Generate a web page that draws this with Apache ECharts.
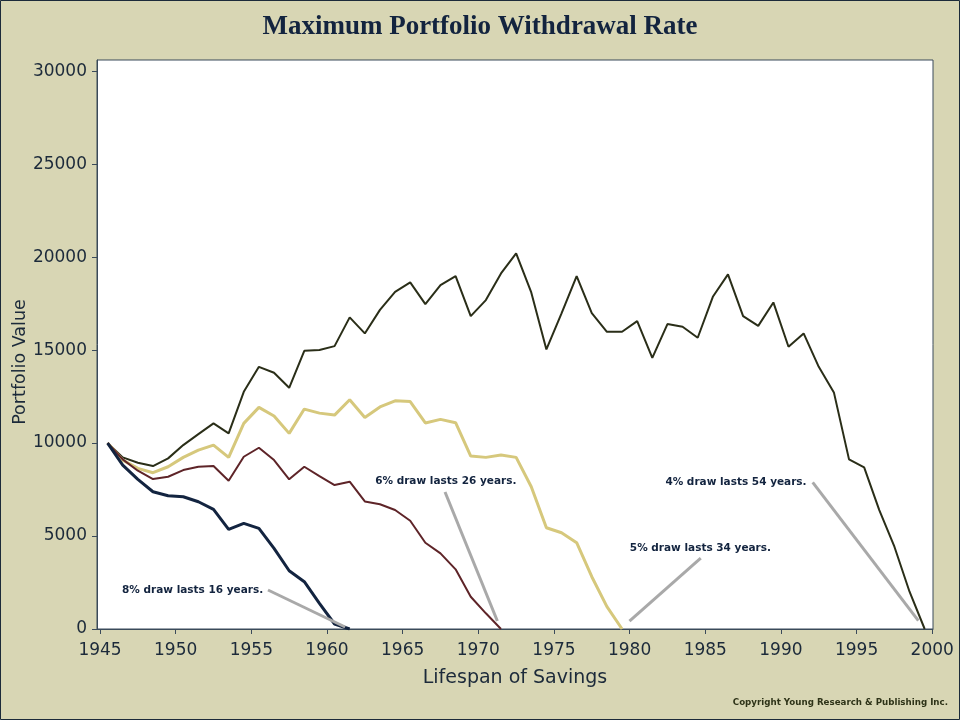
<!DOCTYPE html>
<html>
<head>
<meta charset="utf-8">
<script src="https://cdn.jsdelivr.net/npm/echarts@6/dist/echarts.min.js"></script>
<style>html,body{margin:0;padding:0;background:#d8d6b4;}#c{width:960px;height:720px;}</style>
</head>
<body>
<div id="c"></div>
<script>
// ---- data ----
const years = [1945.5,1946.5,1947.5,1948.5,1949.5,1950.5,1951.5,1952.5,1953.5,1954.5,
  1955.5,1956.5,1957.5,1958.5,1959.5,1960.5,1961.5,1962.5,1963.5,1964.5,
  1965.5,1966.5,1967.5,1968.5,1969.5,1970.5,1971.5,1972.5,1973.5,1974.5,
  1975.5,1976.5,1977.5,1978.5,1979.5,1980.5,1981.5,1982.5,1983.5,1984.5,
  1985.5,1986.5,1987.5,1988.5,1989.5,1990.5,1991.5,1992.5,1993.5,1994.5,
  1995.5,1996.5,1997.5,1998.5,1999.5];
const draw4 = [10000,9230,8940,8763,9176,9890,10480,11058,10520,12757,
  14100,13780,12973,14962,15000,15214,16757,15896,17160,18134,
  18638,17472,18493,18977,16827,17687,19122,20197,18100,15034,
  16972,18977,16990,15985,15985,16558,14585,16397,16253,15662,
  17866,19068,16827,16300,17563,15178,15896,14101,12724,9122,
  8693,6397,4424,2005,0];
const draw5 = [10000,9085,8637,8404,8726,9230,9623,9892,9230,11058,
  11918,11451,10520,11827,11610,11504,12330,11370,11940,12274,
  12230,11080,11273,11093,9300,9230,9354,9230,7650,5446,
  5177,4640,2812,1200,0];
const draw6 = [10000,9122,8512,8064,8189,8548,8726,8763,7973,9264,
  9748,9085,8048,8726,8225,7742,7920,6860,6710,6397,
  5822,4640,4070,3209,1736,844,0];
const draw8 = [10000,8817,8048,7381,7166,7112,6844,6435,5360,5682,
  5414,4338,3134,2543,1382,269,0];
const seriesNames = ['4% draw','5% draw','6% draw','8% draw'];
const yTicks = [0,5000,10000,15000,20000,25000,30000];
const xTicks = [1945,1950,1955,1960,1965,1970,1975,1980,1985,1990,1995,2000];
// annotations: text, text centre [year,value], leader line from/to [year,value]
const noteTexts = ['8% draw lasts 16 years.','6% draw lasts 26 years.','5% draw lasts 34 years.','4% draw lasts 54 years.'];
const noteAt = [[1951.12,2097],[1967.85,7957],[1984.68,4354],[1987.03,7903]];
const noteFrom = [[1956.1,2097],[1967.8,7365],[1984.7,3817],[1992.1,7887]];
const noteTo = [[1961.2,108],[1971.26,430],[1979.99,430],[1999.08,446]];

// ---- chart ----
const chart = echarts.init(document.getElementById('c'));
const pair = arr => arr.map((v,i)=>[years[i], v]);
const colors = ['#2a2e18','#d6c87c','#5e2428','#132440'];
const widths = [2,3,2,3];
const allData = [draw4, draw5, draw6, draw8];
const series = allData.map((d,k)=>({
  name: seriesNames[k], type:'line', data: pair(d), symbol:'none',
  lineStyle:{color:colors[k], width:widths[k]}, itemStyle:{color:colors[k]},
  z: 2+k, animation:false
}));
noteTexts.forEach((t,k)=>{
  series.push({type:'line', data:[noteFrom[k], noteTo[k]], symbol:'none', silent:true,
    lineStyle:{color:'#a9a9a9', width:3}, z:10, animation:false});
  series.push({type:'scatter', data:[noteAt[k]], symbolSize:0, silent:true, z:11, animation:false,
    itemStyle:{opacity:1},
    label:{show:true, position:'inside', formatter:t, color:'#13243f', opacity:1,
      fontFamily:'DejaVu Sans', fontWeight:'bold', fontSize:10.5}});
});
const plain = v => String(Math.round(v));

chart.setOption({
  backgroundColor:'#d8d6b4',
  animation:false,
  title:[
    {text:'Maximum Portfolio Withdrawal Rate', left:'center', top:9,
     textStyle:{fontFamily:'Liberation Serif', fontWeight:'bold', fontSize:27, color:'#13243f'}},
    {text:'Copyright Young Research & Publishing Inc.', right:7, bottom:8,
     textStyle:{fontFamily:'DejaVu Sans', fontWeight:'bold', fontSize:8.7, color:'#2e3318'}}
  ],
  graphic:[
    {type:'rect', shape:{x:0.5,y:0.5,width:959,height:719}, style:{fill:'none', stroke:'#1c2a3a', lineWidth:1}, silent:true},
    {type:'text', x:20, y:362, rotation:Math.PI/2, silent:true,
     style:{text:'Portfolio Value', fill:'#1c2a3a', font:'17.5px "DejaVu Sans"', align:'center', verticalAlign:'middle'}}
  ],
  grid:{left:97, right:27, top:60, bottom:91, outerBoundsMode:'none', containLabel:false, show:true, backgroundColor:'#ffffff', borderColor:'#3a4a5a', borderWidth:1},
  xAxis:{type:'value', min:1944.8, max:2000.05,
    name:'Lifespan of Savings', nameLocation:'middle', nameGap:40,
    nameTextStyle:{fontFamily:'DejaVu Sans', fontSize:19, color:'#1c2a3a'},
    axisLine:{show:true, onZero:false, lineStyle:{color:'#3a4a5a'}},
    axisTick:{show:true, length:5, customValues:xTicks, lineStyle:{color:'#3a4a5a'}},
    axisLabel:{customValues:xTicks, formatter:plain, margin:13, fontFamily:'DejaVu Sans', fontSize:17, color:'#1c2a3a'},
    splitLine:{show:false}},
  yAxis:{type:'value', min:0, max:30600,
    axisLine:{show:true, lineStyle:{color:'#3a4a5a'}},
    axisTick:{show:true, length:5, customValues:yTicks, lineStyle:{color:'#3a4a5a'}},
    axisLabel:{customValues:yTicks, formatter:plain, margin:10, fontFamily:'DejaVu Sans', fontSize:17, color:'#1c2a3a'},
    splitLine:{show:false}},
  series: series
});
</script>
</body>
</html>
